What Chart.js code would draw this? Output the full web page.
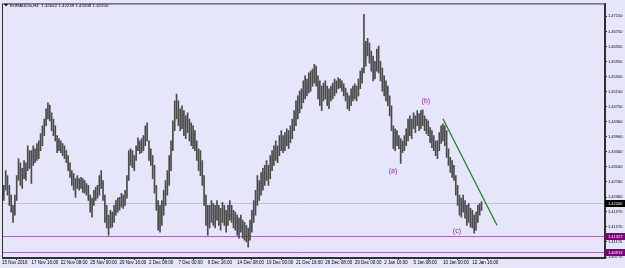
<!DOCTYPE html>
<html>
<head>
<meta charset="utf-8">
<script src="https://cdn.jsdelivr.net/npm/chart.js@4/dist/chart.umd.min.js"></script>
<style>
html, body { margin: 0; padding: 0; background: #e6e6fa; }
</style>
</head>
<body>
<canvas id="chart" width="625" height="268"></canvas>
<script>
// EURAUD H4, one value per 4-hour bar starting 15 Nov 2016 00:00
const symbolTitle = 'EURAUDfx,H4  1.42042 1.42239 1.42008 1.42200';

const timeLabels = ['15 Nov 2016', '17 Nov 16:00', '22 Nov 08:00', '25 Nov 00:00', '29 Nov 16:00',
    '2 Dec 08:00', '7 Dec 00:00', '9 Dec 16:00', '14 Dec 08:00', '19 Dec 00:00', '21 Dec 16:00',
    '26 Dec 08:00', '29 Dec 00:00', '2 Jan 16:00', '5 Jan 08:00', '10 Jan 00:00', '12 Jan 16:00'];
const timeTickIndex = [0, 16, 32, 48, 64, 80, 96, 112, 128, 144, 160, 176, 192, 208, 224, 240, 256];

const highs = [
    1.4248, 1.4267, 1.4306, 1.4293, 1.4267, 1.4241, 1.4214, 1.4241, 1.4293, 1.4338, 1.4327, 1.4312, 1.4333, 1.4327, 1.4372, 1.4359,
    1.4359, 1.4372, 1.4364, 1.4378, 1.4385, 1.4404, 1.4425, 1.4443, 1.4470, 1.4486, 1.4480, 1.4459, 1.4443, 1.4425, 1.4399, 1.4391,
    1.4385, 1.4378, 1.4372, 1.4359, 1.4346, 1.4327, 1.4306, 1.4298, 1.4285, 1.4293, 1.4285, 1.4288, 1.4285, 1.4280, 1.4272, 1.4267,
    1.4241, 1.4233, 1.4254, 1.4262, 1.4267, 1.4293, 1.4306, 1.4280, 1.4241, 1.4214, 1.4188, 1.4201, 1.4196, 1.4214, 1.4227, 1.4233,
    1.4235, 1.4246, 1.4241, 1.4254, 1.4293, 1.4359, 1.4364, 1.4359, 1.4346, 1.4372, 1.4393, 1.4385, 1.4391, 1.4399, 1.4425, 1.4433,
    1.4385, 1.4364, 1.4346, 1.4320, 1.4267, 1.4227, 1.4214, 1.4227, 1.4254, 1.4280, 1.4306, 1.4346, 1.4385, 1.4438, 1.4491, 1.4509,
    1.4491, 1.4470, 1.4478, 1.4465, 1.4451, 1.4459, 1.4443, 1.4433, 1.4425, 1.4412, 1.4385, 1.4364, 1.4359, 1.4333, 1.4293, 1.4241,
    1.4214, 1.4214, 1.4227, 1.4219, 1.4214, 1.4227, 1.4214, 1.4206, 1.4222, 1.4214, 1.4201, 1.4214, 1.4227, 1.4214, 1.4201, 1.4196,
    1.4188, 1.4180, 1.4188, 1.4175, 1.4169, 1.4161, 1.4154, 1.4175, 1.4201, 1.4227, 1.4254, 1.4293, 1.4280, 1.4301, 1.4312, 1.4320,
    1.4333, 1.4320, 1.4346, 1.4359, 1.4372, 1.4385, 1.4372, 1.4399, 1.4412, 1.4399, 1.4407, 1.4417, 1.4412, 1.4425, 1.4443, 1.4465,
    1.4491, 1.4504, 1.4517, 1.4523, 1.4544, 1.4557, 1.4549, 1.4565, 1.4570, 1.4575, 1.4588, 1.4583, 1.4557, 1.4544, 1.4530, 1.4538,
    1.4544, 1.4530, 1.4523, 1.4530, 1.4538, 1.4549, 1.4544, 1.4552, 1.4549, 1.4544, 1.4536, 1.4525, 1.4512, 1.4504, 1.4523, 1.4530,
    1.4536, 1.4530, 1.4549, 1.4570, 1.4578, 1.4720, 1.4649, 1.4657, 1.4644, 1.4623, 1.4610, 1.4596, 1.4628, 1.4636, 1.4596, 1.4578,
    1.4557, 1.4544, 1.4530, 1.4504, 1.4478, 1.4425, 1.4417, 1.4412, 1.4399, 1.4391, 1.4385, 1.4399, 1.4417, 1.4443, 1.4451, 1.4443,
    1.4459, 1.4451, 1.4465, 1.4457, 1.4465, 1.4467, 1.4451, 1.4443, 1.4438, 1.4420, 1.4412, 1.4399, 1.4385, 1.4385, 1.4407, 1.4425,
    1.4430, 1.4425, 1.4412, 1.4364, 1.4341, 1.4333, 1.4320, 1.4293, 1.4267, 1.4241, 1.4233, 1.4241, 1.4227, 1.4214, 1.4219, 1.4206,
    1.4201, 1.4188, 1.4196, 1.4214, 1.4219, 1.42239
];
const lows = [
    1.4214, 1.4227, 1.4254, 1.4241, 1.4214, 1.4196, 1.4169, 1.4188, 1.4227, 1.4280, 1.4267, 1.4259, 1.4285, 1.4280, 1.4306, 1.4312,
    1.4272, 1.4320, 1.4327, 1.4333, 1.4338, 1.4359, 1.4372, 1.4399, 1.4425, 1.4443, 1.4438, 1.4412, 1.4399, 1.4385, 1.4354, 1.4359,
    1.4354, 1.4346, 1.4338, 1.4327, 1.4306, 1.4288, 1.4267, 1.4254, 1.4235, 1.4259, 1.4254, 1.4259, 1.4248, 1.4246, 1.4241, 1.4227,
    1.4196, 1.4183, 1.4214, 1.4227, 1.4233, 1.4241, 1.4259, 1.4227, 1.4169, 1.4154, 1.4135, 1.4154, 1.4156, 1.4169, 1.4188, 1.4196,
    1.4201, 1.4209, 1.4206, 1.4214, 1.4233, 1.4280, 1.4320, 1.4314, 1.4306, 1.4333, 1.4359, 1.4351, 1.4354, 1.4359, 1.4372, 1.4385,
    1.4333, 1.4320, 1.4285, 1.4246, 1.4201, 1.4148, 1.4143, 1.4161, 1.4188, 1.4214, 1.4241, 1.4267, 1.4306, 1.4359, 1.4412, 1.4443,
    1.4425, 1.4412, 1.4417, 1.4399, 1.4391, 1.4407, 1.4385, 1.4372, 1.4364, 1.4359, 1.4333, 1.4306, 1.4293, 1.4267, 1.4214, 1.4161,
    1.4135, 1.4154, 1.4169, 1.4161, 1.4154, 1.4175, 1.4161, 1.4148, 1.4169, 1.4161, 1.4143, 1.4161, 1.4175, 1.4169, 1.4154, 1.4148,
    1.4135, 1.4127, 1.4143, 1.4127, 1.4122, 1.4117, 1.4103, 1.4122, 1.4143, 1.4169, 1.4188, 1.4214, 1.4227, 1.4241, 1.4254, 1.4267,
    1.4280, 1.4267, 1.4285, 1.4306, 1.4320, 1.4333, 1.4327, 1.4346, 1.4359, 1.4354, 1.4359, 1.4372, 1.4364, 1.4380, 1.4391, 1.4412,
    1.4425, 1.4443, 1.4459, 1.4470, 1.4486, 1.4496, 1.4504, 1.4512, 1.4517, 1.4530, 1.4538, 1.4530, 1.4496, 1.4478, 1.4465, 1.4491,
    1.4496, 1.4478, 1.4470, 1.4491, 1.4496, 1.4504, 1.4512, 1.4523, 1.4525, 1.4517, 1.4504, 1.4491, 1.4470, 1.4465, 1.4478, 1.4491,
    1.4496, 1.4491, 1.4504, 1.4523, 1.4538, 1.4565, 1.4583, 1.4610, 1.4591, 1.4570, 1.4544, 1.4549, 1.4570, 1.4565, 1.4544, 1.4517,
    1.4504, 1.4491, 1.4478, 1.4451, 1.4412, 1.4364, 1.4359, 1.4372, 1.4364, 1.4325, 1.4354, 1.4359, 1.4372, 1.4385, 1.4399, 1.4391,
    1.4417, 1.4407, 1.4425, 1.4412, 1.4417, 1.4425, 1.4412, 1.4404, 1.4399, 1.4380, 1.4367, 1.4359, 1.4346, 1.4338, 1.4359, 1.4378,
    1.4385, 1.4372, 1.4341, 1.4320, 1.4301, 1.4288, 1.4280, 1.4241, 1.4214, 1.4188, 1.4183, 1.4196, 1.4180, 1.4161, 1.4169, 1.4156,
    1.4154, 1.4140, 1.4148, 1.4169, 1.4188, 1.42008
];

const priceTicks = [1.40770, 1.41170, 1.41570, 1.41970, 1.42360, 1.42760, 1.43160, 1.43560, 1.43960,
    1.44360, 1.44750, 1.45150, 1.45550, 1.45950, 1.46350, 1.46750, 1.47150];
const lastPrice = 1.42200;
const levelPrices = [1.41327, 1.40913];

const trendBars = [240, 269.4];
const trendPrices = [1.44435, 1.41614];

const waveNames = ['(a)', '(b)', '(c)'];
const waveBars = [212.8, 230.7, 247.6];
const wavePrices = [1.4304, 1.4491, 1.4146];

const FONT = 'Liberation Sans';

const mt4Overlay = {
    id: 'mt4Overlay',
    beforeDraw(chart) {
        const c = chart.ctx;
        c.save();
        c.fillStyle = '#e6e6fa';
        c.fillRect(0, 0, chart.width, chart.height);
        c.restore();
    },
    beforeDatasetsDraw(chart) {
        const c = chart.ctx, a = chart.chartArea, y = chart.scales.y;
        c.save();
        c.lineWidth = 1;
        c.strokeStyle = '#c4c4cc';
        let py = Math.round(y.getPixelForValue(lastPrice)) + 0.5;
        c.beginPath(); c.moveTo(a.left, py); c.lineTo(a.right, py); c.stroke();
        c.strokeStyle = '#a865c0';
        levelPrices.forEach(p => {
            const ly = Math.round(y.getPixelForValue(p)) + 0.5;
            c.beginPath(); c.moveTo(a.left, ly); c.lineTo(a.right, ly); c.stroke();
        });
        c.restore();
    },
    afterDraw(chart) {
        const c = chart.ctx, a = chart.chartArea, x = chart.scales.x, y = chart.scales.y;
        c.save();
        // frame
        c.strokeStyle = '#303030';
        c.lineWidth = 1;
        c.strokeRect(a.left + 0.5, a.top + 0.5, a.right - a.left - 1, a.bottom - a.top - 1);

        // price boxes on the axis
        const boxes = [[lastPrice, '#000000']].concat(levelPrices.map(p => [p, '#800080']));
        c.font = '4px ' + FONT;
        c.textBaseline = 'middle';
        c.textAlign = 'left';
        boxes.forEach(([p, col]) => {
            const py = Math.round(y.getPixelForValue(p));
            c.fillStyle = col;
            c.fillRect(a.right, py - 3, 20, 7);
            c.fillStyle = '#ffffff';
            c.fillText(p.toFixed(5), a.right + 3, py + 0.5);
        });

        // title
        c.fillStyle = '#000';
        c.beginPath();
        c.moveTo(4, 4); c.lineTo(8, 4); c.lineTo(6, 6.5); c.closePath(); c.fill();
        c.font = '4.4px ' + FONT;
        c.fillText(symbolTitle, 10, 5.5);

        // wave labels
        c.fillStyle = '#8a2a9e';
        c.font = '7px ' + FONT;
        c.textAlign = 'center';
        waveNames.forEach((t, i) => {
            c.fillText(t, x.getPixelForValue(waveBars[i]), y.getPixelForValue(wavePrices[i]));
        });
        c.restore();
    }
};

const barData = highs.map((h, i) => ({ x: i, y: [lows[i], h] }));
const trendData = trendBars.map((b, i) => ({ x: b, y: trendPrices[i] }));

const ctx = document.getElementById('chart').getContext('2d');
new Chart(ctx, {
    type: 'bar',
    data: {
        datasets: [{
            type: 'line',
            data: trendData,
            borderColor: '#1b7a1b',
            borderWidth: 1.2,
            pointRadius: 0,
            order: 0
        }, {
            type: 'bar',
            data: barData,
            backgroundColor: '#4a4a4a',
            barThickness: 1,
            grouped: false,
            borderWidth: 0,
            order: 1
        }]
    },
    options: {
        responsive: false,
        devicePixelRatio: 1,
        animation: false,
        layout: { padding: { left: 2, top: 2, right: 0, bottom: 0 } },
        plugins: {
            legend: { display: false },
            tooltip: { enabled: false }
        },
        scales: {
            x: {
                type: 'linear',
                min: 0,
                max: 328.2,
                offset: false,
                border: { color: '#303030' },
                grid: { drawOnChartArea: false, tickLength: 2, color: '#303030' },
                ticks: {
                    font: { family: FONT, size: 4.5 },
                    color: '#000',
                    align: 'start',
                    maxRotation: 0,
                    autoSkip: false,
                    padding: 0,
                    callback: (v) => {
                        const k = timeTickIndex.indexOf(v);
                        return k >= 0 ? timeLabels[k] : '';
                    }
                },
                afterBuildTicks: (s) => { s.ticks = timeTickIndex.map(v => ({ value: v })); },
                afterFit: (s) => { s.height = 10; }
            },
            y: {
                position: 'right',
                min: 1.40745,
                max: 1.47493,
                border: { color: '#303030' },
                grid: { drawOnChartArea: false, tickLength: 2, color: '#303030' },
                ticks: {
                    font: { family: FONT, size: 4 },
                    color: '#000',
                    padding: 1,
                    callback: (v) => v.toFixed(5)
                },
                afterBuildTicks: (s) => { s.ticks = priceTicks.map(v => ({ value: v })); },
                afterFit: (s) => { s.width = 20; }
            }
        }
    },
    plugins: [mt4Overlay]
});
</script>
</body>
</html>
